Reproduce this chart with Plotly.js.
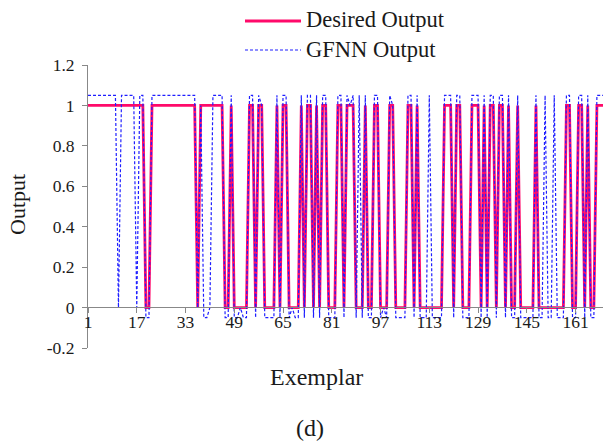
<!DOCTYPE html>
<html>
<head>
<meta charset="utf-8">
<script src="https://cdn.plot.ly/plotly-3.0.1.min.js"></script>
<style>
  html, body { margin: 0; padding: 0; background: #fff; }
  #chart { width: 606px; height: 441px; }
</style>
</head>
<body>
<div id="chart"></div>
<script>
// Exemplar index 1..170
var exemplar = [];
for (var k = 1; k <= 170; k++) exemplar.push(k);

// Desired output
var desiredOutput = [
  1,1,1,1,1,1,1,1,1,1,
  1,1,1,1,1,1,1,1,1,0,
  0,1,1,1,1,1,1,1,1,1,
  1,1,1,1,1,1,0,1,1,1,
  1,1,1,1,1,0,0,1,0,0,
  0,0,0,1,1,0,1,1,0,0,
  0,0,1,0,1,1,0,0,0,0,
  1,0,1,1,0,1,0,1,1,0,
  0,0,1,1,0,1,1,1,0,0,
  0,1,0,0,1,1,0,0,0,1,
  1,0,0,0,0,1,1,0,1,0,
  0,0,0,0,0,0,0,1,1,1,
  0,1,1,0,0,0,1,1,1,0,
  1,0,1,1,0,1,1,0,1,0,
  0,1,0,0,0,0,0,1,0,0,
  0,0,0,0,0,0,0,1,1,0,
  0,1,1,0,1,0,0,1,1,1
];

// GFNN output
var gfnnOutput = [
  1.05,1.05,1.05,1.05,1.05,1.05,1.05,1.05,1.05,1.05,
  0,1.05,1.05,1.05,1.05,1.05,0,1.05,1.05,-0.05,
  -0.05,1.05,1.05,1.05,1.05,1.05,1.05,1.05,1.05,1.05,
  1.05,1.05,1.05,1.05,1.05,1.05,0,1,-0.05,-0.05,
  0,1.05,1.05,1.05,1.05,-0.05,-0.05,1.05,-0.05,-0.05,
  0,-0.05,-0.05,1.05,1.05,-0.05,1.05,1,-0.05,-0.05,
  -0.05,-0.05,1.05,-0.05,1.05,1.05,-0.05,0,-0.05,-0.05,
  1.05,-0.05,1.05,1.05,-0.05,1.05,-0.05,1.05,1.05,-0.05,
  -0.05,-0.05,1.05,1.05,-0.05,1.05,1,1.05,-0.05,1.05,
  -0.05,1.05,-0.05,-0.05,1.05,1.05,-0.05,0,-0.05,1.05,
  1,-0.05,-0.05,-0.05,-0.05,1.05,1.05,-0.05,1.05,-0.05,
  -0.05,-0.05,1.05,-0.05,-0.05,-0.05,-0.05,1.05,1.05,1.05,
  -0.05,1.05,1.05,-0.05,-0.05,-0.05,1.05,1.05,1.05,-0.05,
  1.05,-0.05,1.05,1.05,-0.05,1.05,1.05,-0.05,1.05,-0.05,
  -0.05,1.05,-0.05,-0.05,-0.05,-0.05,-0.05,1.05,-0.05,-0.05,
  1.05,-0.05,-0.05,1.05,-0.05,-0.05,-0.05,1.05,1.05,-0.05,
  -0.05,1.05,1.05,-0.05,1.05,-0.05,-0.05,1.05,1.05,1.05
];

var xTickVals = [1, 17, 33, 49, 65, 81, 97, 113, 129, 145, 161];
var xTickText = ["1", "17", "33", "49", "65", "81", "97", "113", "129", "145", "161"];
var yTickVals = [-0.2, 0, 0.2, 0.4, 0.6, 0.8, 1, 1.2];
var yTickText = ["-0.2", "0", "0.2", "0.4", "0.6", "0.8", "1", "1.2"];

var seriesNames = ["Desired Output", "GFNN Output"];

var FONT = "Liberation Serif, Times New Roman, serif";
var PINK = "#FF0A6A";
var BLUE = "#1F1FFF";
var TXT = "#1a1a1a";

var traces = [
  {
    x: exemplar, y: desiredOutput, type: "scatter", mode: "lines",
    name: seriesNames[0],
    line: { color: PINK, width: 2.8 },
    showlegend: false, hoverinfo: "skip"
  },
  {
    x: exemplar, y: gfnnOutput, type: "scatter", mode: "lines",
    name: seriesNames[1],
    line: { color: BLUE, width: 1.2, dash: "3px,2px" },
    showlegend: false, hoverinfo: "skip"
  }
];

// plot area: left 88, right 603, top 65, bottom 348
function px2x(p) { return (p - 88) / 515; }
function px2y(p) { return (348 - p) / 283; }

var layout = {
  width: 606, height: 441,
  margin: { l: 88, r: 3, t: 65, b: 93 },
  paper_bgcolor: "#fff", plot_bgcolor: "#fff",
  font: { family: FONT, size: 17, color: TXT },
  showlegend: false,
  xaxis: {
    range: [1, 170],
    anchor: "free", position: px2y(307),
    tickmode: "array", tickvals: xTickVals, ticktext: xTickText,
    ticks: "outside", ticklen: 5, tickcolor: "#888", tickwidth: 1,
    showline: true, linecolor: "#888", linewidth: 1,
    showgrid: false, zeroline: false,
    ticklabelstandoff: -6,
    tickfont: { family: FONT, size: 17.5, color: TXT }
  },
  yaxis: {
    range: [-0.2, 1.2],
    tickmode: "array", tickvals: yTickVals, ticktext: yTickText,
    ticks: "outside", ticklen: 5, tickcolor: "#888", tickwidth: 1,
    showline: true, linecolor: "#888", linewidth: 1,
    showgrid: false, zeroline: false,
    ticklabelstandoff: 4,
    tickfont: { family: FONT, size: 17.5, color: TXT }
  },
  shapes: [
    { type: "line", xref: "paper", yref: "paper",
      x0: px2x(245), x1: px2x(301), y0: px2y(21), y1: px2y(21),
      line: { color: PINK, width: 3 } },
    { type: "line", xref: "paper", yref: "paper",
      x0: px2x(245), x1: px2x(301), y0: px2y(50), y1: px2y(50),
      line: { color: BLUE, width: 1.2, dash: "3px,2px" } }
  ],
  annotations: [
    { text: seriesNames[0], xref: "paper", yref: "paper",
      x: px2x(304), y: px2y(20), xanchor: "left", yanchor: "middle",
      showarrow: false, font: { family: FONT, size: 22.5, color: TXT } },
    { text: seriesNames[1], xref: "paper", yref: "paper",
      x: px2x(304), y: px2y(49), xanchor: "left", yanchor: "middle",
      showarrow: false, font: { family: FONT, size: 22.5, color: TXT } },
    { text: "Exemplar", xref: "paper", yref: "paper",
      x: px2x(316), y: px2y(377), xanchor: "center", yanchor: "middle",
      showarrow: false, font: { family: FONT, size: 24, color: TXT } },
    { text: "(d)", xref: "paper", yref: "paper",
      x: px2x(310), y: px2y(428), xanchor: "center", yanchor: "middle",
      showarrow: false, font: { family: FONT, size: 24, color: TXT } },
    { text: "Output", xref: "paper", yref: "paper",
      x: px2x(17), y: px2y(205), xanchor: "center", yanchor: "middle",
      textangle: -90,
      showarrow: false, font: { family: FONT, size: 22, color: TXT } }
  ]
};

Plotly.newPlot("chart", traces, layout, { staticPlot: true, displayModeBar: false });
</script>
</body>
</html>
